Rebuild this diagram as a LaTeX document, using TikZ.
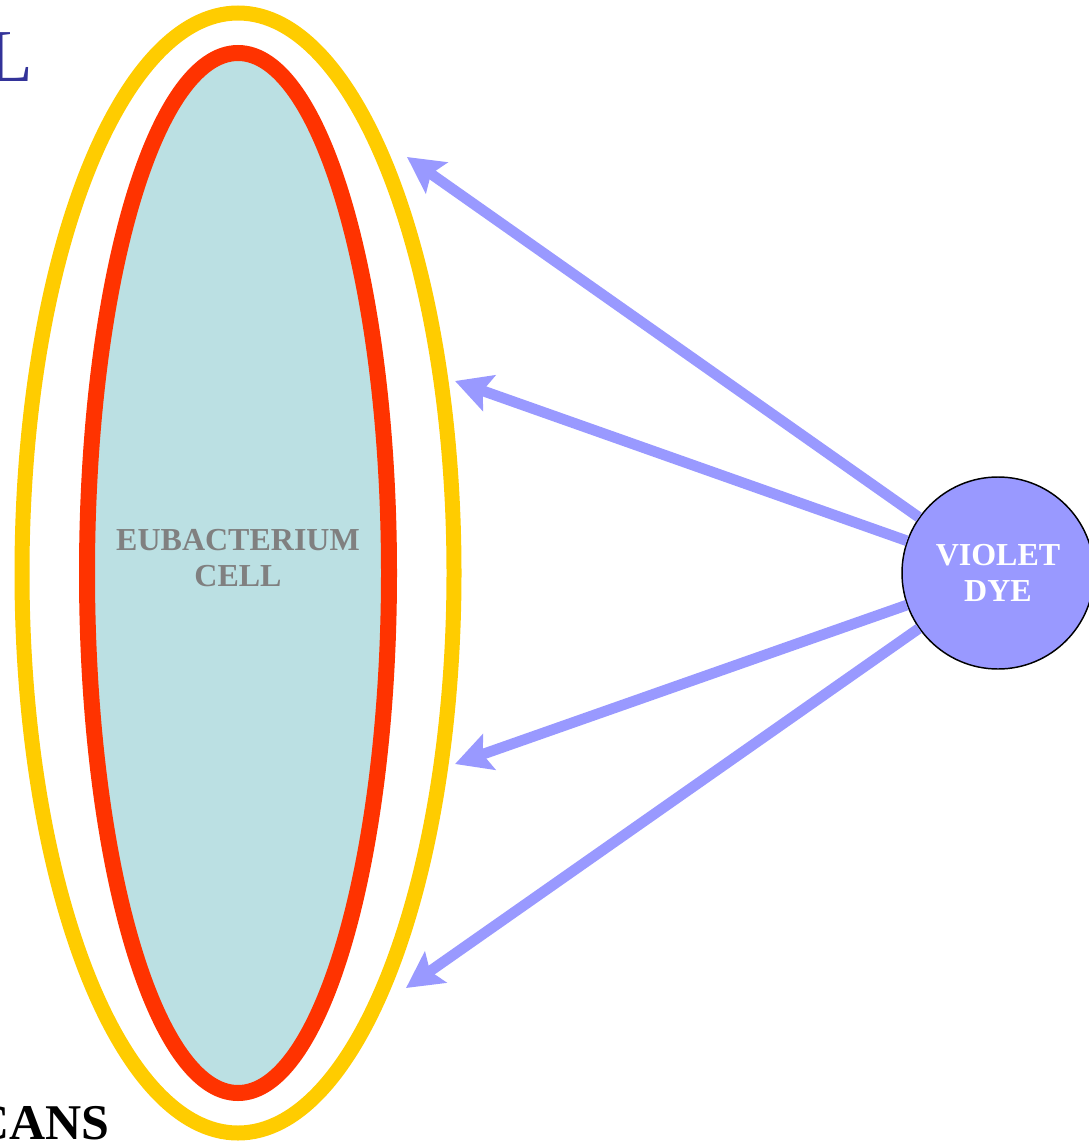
\documentclass[tikz,border=0pt]{standalone}
\usepackage{fontspec}
\setmainfont{Liberation Serif}
\usetikzlibrary{arrows.meta}
\definecolor{ringyellow}{HTML}{FFCC00}
\definecolor{ringred}{HTML}{FF3300}
\definecolor{cellfill}{HTML}{BBE0E3}
\definecolor{dyeviolet}{HTML}{9999FF}
\definecolor{textgray}{HTML}{808080}
\definecolor{titleblue}{HTML}{333399}

\begin{document}
\begin{tikzpicture}[x=0.75pt, y=-0.75pt,
    >={Stealth[length=27pt,width=28pt,inset=5pt]},
    dyearrow/.style={->, draw=dyeviolet, fill=dyeviolet, line width=8pt},
    celltext/.style={align=center, text=textgray, font=\fontsize{24}{27.5}\selectfont\bfseries}]
  \useasboundingbox (0,0) rectangle (1088,1145);
  \draw[ringyellow, line width=11.25pt] (238,573) ellipse [x radius=162pt, y radius=420pt];
  \draw[ringred, fill=cellfill, line width=12pt] (238,573) ellipse [x radius=113.25pt, y radius=390pt];
  \node[celltext] (cell) at (238,558) {EUBACTERIUM\\CELL};
  \node[anchor=base east, inner sep=0pt, text=titleblue, font=\fontsize{56}{60}\selectfont] (title) at (33,82) {L};
  \node[anchor=base east, inner sep=0pt, font=\fontsize{37.5}{40}\selectfont\bfseries] (glycans) at (110,1139) {CANS};
  \node[circle, draw=black, line width=1.1pt, fill=dyeviolet, minimum size=144pt, inner sep=0pt,
        align=center, text=white, font=\fontsize{24}{27}\selectfont\bfseries] (dye) at (998,573) {VIOLET\\DYE};
  \coordinate (t1) at (407,157);
  \coordinate (t2) at (455,381);
  \coordinate (t3) at (455,764);
  \coordinate (t4) at (406,988);
  \draw[dyearrow] (dye) -- (t1);
  \draw[dyearrow] (dye) -- (t2);
  \draw[dyearrow] (dye) -- (t3);
  \draw[dyearrow] (dye) -- (t4);
\end{tikzpicture}
\end{document}
